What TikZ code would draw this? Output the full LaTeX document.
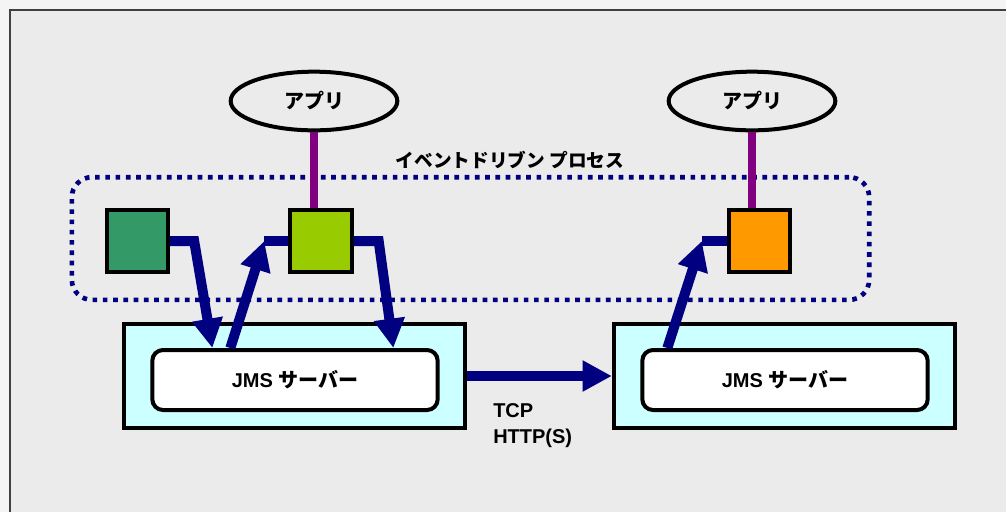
\documentclass[tikz,border=0pt]{standalone}
\usepackage{fontspec}
\setmainfont{Liberation Sans}
\newfontfamily\jp{Noto Sans CJK JP}
\usepackage{tikz}
\usetikzlibrary{arrows.meta,positioning,calc,shapes.geometric}
\definecolor{cPage}{HTML}{F4F4F4}
\definecolor{cPanel}{HTML}{EBEBEB}
\definecolor{cFrame}{HTML}{404040}
\definecolor{cNavy}{HTML}{000080}
\definecolor{cPlum}{HTML}{800080}
\definecolor{cAqua}{HTML}{CCFFFF}
\definecolor{cGreen}{HTML}{339966}
\definecolor{cLime}{HTML}{99CC00}
\definecolor{cOrange}{HTML}{FF9900}
\tikzset{
  txt/.style={font=\fontsize{15}{20}\selectfont\bfseries,text=black,inner sep=0pt},
  app/.style={ellipse,draw=black,fill=cPanel,line width=3pt,minimum width=125pt,minimum height=44pt,txt},
  comp/.style={draw=black,fill=#1,line width=3pt,minimum width=46pt,minimum height=46pt,inner sep=0pt},
  srvbox/.style={draw=black,fill=cAqua,line width=3pt,minimum width=256pt,minimum height=78pt},
  jmsbox/.style={draw=black,fill=white,line width=3pt,rounded corners=8pt,minimum width=214pt,minimum height=45pt,txt},
  procbox/.style={draw=cNavy,line width=3.5pt,dash pattern=on 3.5pt off 4.2pt,rounded corners=15pt,minimum width=598pt,minimum height=92pt},
  flow/.style={-{Triangle[length=22pt,width=22pt]},line width=7.5pt,color=cNavy},
  stub/.style={line width=7.5pt,color=cNavy},
  link/.style={line width=6pt,color=cPlum},
}
\begin{document}
\begin{tikzpicture}[x=0.75pt,y=-0.75pt]
  \useasboundingbox (0,0) rectangle (1006,512);
  % panel and frame
  \fill[cPage] (0,0) rectangle (1006,512);
  \fill[cPanel] (10,10) rectangle (1006,512);
  \draw[cFrame,line width=1.5pt] (10,512) -- (10,10) -- (1006,10);

  % event driven process
  \node[procbox] (proc) at (470.5,238.5) {};
  \node[txt,font=\fontsize{14}{20}\selectfont\bfseries] (proclbl) at (510,160) {\jp イベントドリブン プロセス};
  \node[comp=cGreen] (sq1) at (137.5,241) {};
  \node[comp=cLime] (sq2) at (321,241) {};
  \node[comp=cOrange] (sq3) at (759.5,241) {};

  % applications
  \node[app] (app1) at (314,101) {\jp アプリ};
  \node[app] (app2) at (752,101) {\jp アプリ};
  \draw[link] (app1.south) -- (app1.south |- sq2.north);
  \draw[link] (app2.south) -- (app2.south |- sq3.north);

  % JMS servers
  \node[srvbox] (srv1) at (294.5,376) {};
  \node[srvbox] (srv2) at (784.5,376) {};
  \node[jmsbox] (jms1) at (295,380) {JMS {\jp サーバー}};
  \node[jmsbox] (jms2) at (785,380) {JMS {\jp サーバー}};

  % message flow
  \coordinate (in2) at ($(sq2.west)+(-24,0)$);
  \coordinate (in3) at ($(sq3.west)+(-25,0)$);
  \draw[flow] (sq1.east) -- ++(24,0) -- ($(jms1.north west)+(62,0)$);
  \draw[flow] ($(jms1.north west)+(80,0)$) -- (in2);
  \draw[stub] (in2) -- (sq2.west);
  \draw[flow] (sq2.east) -- ++(25,0) -- ($(jms1.north west)+(243,0)$);
  \draw[flow] ($(jms2.north west)+(27,0)$) -- (in3);
  \draw[stub] (in3) -- (sq3.west);

  \draw[flow] (srv1.east) -- (srv2.west);
  \node[txt,align=left,anchor=north west] (proto) at (493,403) {TCP\\HTTP(S)};
\end{tikzpicture}
\end{document}
